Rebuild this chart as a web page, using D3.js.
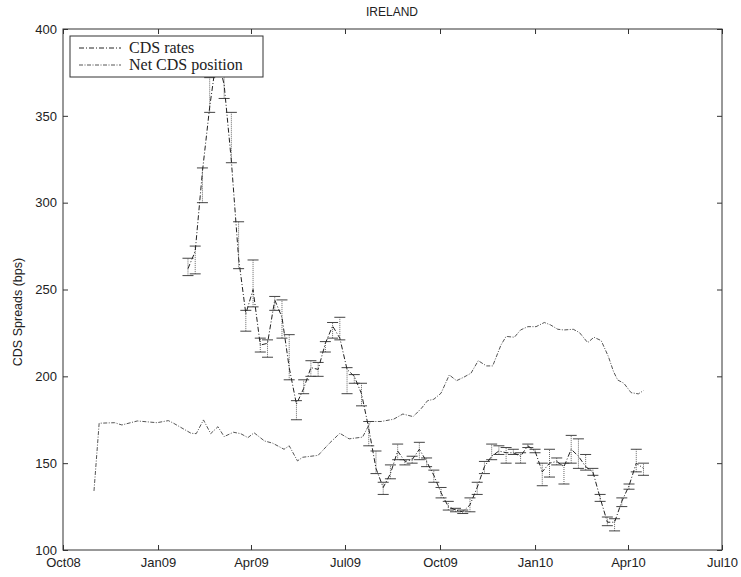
<!DOCTYPE html>
<html>
<head>
<meta charset="utf-8">
<script src="https://cdn.jsdelivr.net/npm/d3@7"></script>
<style>
  body { margin: 0; background: #fff; }
  svg text { font-family: "Liberation Sans", Arial, sans-serif; fill: #222; }
</style>
</head>
<body>
<svg id="chart" width="741" height="577"></svg>
<script>
// net CDS position (dates + values)
const netDates = ["2008-10-31","2008-11-05","2008-11-20","2008-11-27","2008-12-12","2008-12-31","2009-01-11","2009-01-16",
  "2009-02-02","2009-02-07","2009-02-14","2009-02-21","2009-02-28","2009-03-06","2009-03-15","2009-03-22","2009-03-29",
  "2009-04-04","2009-04-14","2009-04-22","2009-05-03","2009-05-08","2009-05-16","2009-05-21","2009-06-05","2009-06-16",
  "2009-06-26","2009-07-05","2009-07-18","2009-07-26","2009-08-05","2009-08-17","2009-08-26","2009-09-05","2009-09-13",
  "2009-09-19","2009-09-25","2009-10-02","2009-10-10","2009-10-17","2009-10-24","2009-10-31","2009-11-07","2009-11-15",
  "2009-11-21","2009-11-29","2009-12-04","2009-12-12","2009-12-18","2009-12-25","2010-01-02","2010-01-10","2010-01-16",
  "2010-01-23","2010-01-29","2010-02-07","2010-02-13","2010-02-21","2010-02-27","2010-03-06","2010-03-13","2010-03-18",
  "2010-03-22","2010-03-28","2010-04-04","2010-04-11","2010-04-16"];
const netValues = [134,173,173.3,172,174.3,173.3,174.5,173,
  167.2,167,174.9,167,171,165.3,167.8,167,164.7,
  167.5,162.8,161.5,158,160,151.3,153.4,154.5,161.5,
  167.2,164,165,174,174,175.3,178.3,176.8,181.6,
  186,186.8,190.3,200.8,197.5,199.5,201.8,209,206,
  206,218,223,222.5,226.7,228.6,228.6,231,229.6,
  227.1,226.7,227.1,225.2,219.4,222.5,220.6,211.4,202.7,
  197.9,196,190.6,189.9,191.8];

// CDS rates, weekly: mean with low/high range
const cdsDates = ["2009-01-30","2009-02-06","2009-02-13","2009-02-20","2009-02-27","2009-03-06","2009-03-13","2009-03-20",
  "2009-03-27","2009-04-03","2009-04-10","2009-04-17","2009-04-24","2009-05-01","2009-05-08","2009-05-15","2009-05-22",
  "2009-05-29","2009-06-05","2009-06-12","2009-06-19","2009-06-26","2009-07-03","2009-07-10","2009-07-17","2009-07-24",
  "2009-07-31","2009-08-07","2009-08-14","2009-08-21","2009-08-28","2009-09-04","2009-09-11","2009-09-18","2009-09-25",
  "2009-10-02","2009-10-09","2009-10-16","2009-10-23","2009-10-30","2009-11-06","2009-11-13","2009-11-20","2009-11-27",
  "2009-12-04","2009-12-11","2009-12-18","2009-12-25","2010-01-01","2010-01-08","2010-01-15","2010-01-22","2010-01-29",
  "2010-02-05","2010-02-12","2010-02-19","2010-02-26","2010-03-05","2010-03-12","2010-03-19","2010-03-26","2010-04-02",
  "2010-04-09","2010-04-16"];
const cdsMean = [262,272,318,355,385,368,324,268,236,250,218,219,244,234,205,184,193,205,204,219,229,222,204,200,190,170,
  147,136,144,157,151,152,158,151,143,133,125,123,122,126,136,148,154,157,156,156,154,160,157,145,150,151,148,158,154,
  148,145,130,116,116,128,137,150,147];
const cdsLow = [258,259,300,352,378,360,323,262,226,240,214,211,238,222,198,175,190,200,200,214,222,221,190,196,183,160,
  144,132,141,152,149,150,152,148,139,130,123,122,121,122,132,144,152,155,150,155,150,159,156,137,142,149,138,150,147,
  146,143,128,114,111,125,135,145,143];
const cdsHigh = [268,275,320,372,392,378,352,289,238,267,222,221,246,244,224,186,198,209,208,220,231,234,205,201,196,174,
  157,139,149,161,152,154,162,153,146,136,128,124,123,130,139,151,161,160,159,158,156,161,158,150,158,153,150,166,164,
  155,147,132,119,118,130,138,158,150];

const xTicks = ["2008-10-01","2009-01-01","2009-04-01","2009-07-01","2009-10-01","2010-01-01","2010-04-01","2010-07-01"];
const yTicks = [100,150,200,250,300,350,400];

const parse = d3.timeParse("%Y-%m-%d");
const svg = d3.select("#chart");
const m = {left: 63, right: 19, top: 29, bottom: 27};
const W = 741, H = 577;

const x = d3.scaleTime()
  .domain([parse(xTicks[0]), parse(xTicks[xTicks.length - 1])])
  .range([m.left, W - m.right]);
const y = d3.scaleLinear().domain([100, 400]).range([H - m.bottom, m.top]);

const fmt = d3.timeFormat("%b%y");

// axes (MATLAB style: ticks inside, box)
const tickDates = xTicks.map(parse);
svg.append("g")
  .attr("transform", "translate(0," + (H - m.bottom) + ")")
  .call(d3.axisBottom(x).tickValues(tickDates).tickFormat(fmt).tickSizeInner(-5).tickSizeOuter(0).tickPadding(8))
  .call(g => g.select(".domain").remove());
svg.append("g")
  .attr("transform", "translate(0," + m.top + ")")
  .call(d3.axisTop(x).tickValues(tickDates).tickFormat("").tickSizeInner(-5).tickSizeOuter(0))
  .call(g => g.select(".domain").remove());
svg.append("g")
  .attr("transform", "translate(" + m.left + ",0)")
  .call(d3.axisLeft(y).tickValues(yTicks).tickSizeInner(-5).tickSizeOuter(0).tickPadding(6))
  .call(g => g.select(".domain").remove());
svg.append("g")
  .attr("transform", "translate(" + (W - m.right) + ",0)")
  .call(d3.axisRight(y).tickValues(yTicks).tickFormat("").tickSizeInner(-5).tickSizeOuter(0))
  .call(g => g.select(".domain").remove());

svg.selectAll(".tick line").attr("stroke", "#333");
svg.selectAll(".tick text").attr("font-size", 13).attr("fill", "#222")
  .style("font-family", "'Liberation Sans', Arial, sans-serif");

svg.append("rect")
  .attr("x", m.left).attr("y", m.top)
  .attr("width", W - m.left - m.right).attr("height", H - m.top - m.bottom)
  .attr("fill", "none").attr("stroke", "#333").attr("stroke-width", 1);

// net CDS position line
const netData = netDates.map((d, i) => [parse(d), netValues[i]]);
svg.append("path")
  .datum(netData)
  .attr("fill", "none")
  .attr("stroke", "#555")
  .attr("stroke-width", 1)
  .attr("stroke-dasharray", "4,1.5,1,1.5")
  .attr("d", d3.line().x(d => x(d[0])).y(d => y(d[1])));

// CDS rates with error bars
const cds = cdsDates.map((d, i) => ({date: parse(d), mean: cdsMean[i], lo: cdsLow[i], hi: cdsHigh[i]}));
const eb = svg.append("g").selectAll("g").data(cds).join("g");
eb.append("line")
  .attr("x1", d => x(d.date)).attr("x2", d => x(d.date))
  .attr("y1", d => y(d.lo)).attr("y2", d => y(d.hi))
  .attr("stroke", "#666").attr("stroke-width", 1).attr("stroke-dasharray", "1,1");
eb.append("line")
  .attr("x1", d => x(d.date) - 5.5).attr("x2", d => x(d.date) + 5.5)
  .attr("y1", d => y(d.lo)).attr("y2", d => y(d.lo))
  .attr("stroke", "#444").attr("stroke-width", 1);
eb.append("line")
  .attr("x1", d => x(d.date) - 5.5).attr("x2", d => x(d.date) + 5.5)
  .attr("y1", d => y(d.hi)).attr("y2", d => y(d.hi))
  .attr("stroke", "#444").attr("stroke-width", 1);

svg.append("path")
  .datum(cds)
  .attr("fill", "none")
  .attr("stroke", "#222")
  .attr("stroke-width", 1)
  .attr("stroke-dasharray", "5,2,1,2")
  .attr("d", d3.line().x(d => x(d.date)).y(d => y(d.mean)));

// legend
const lg = svg.append("g");
lg.append("rect").attr("x", 70).attr("y", 36).attr("width", 193).attr("height", 41)
  .attr("fill", "#fff").attr("stroke", "#333").attr("stroke-width", 1);
const legendItems = [
  {label: "CDS rates", color: "#222", dash: "5,2,1,2"},
  {label: "Net CDS position", color: "#555", dash: "4,1.5,1,1.5"}
];
legendItems.forEach((it, i) => {
  const yy = 48 + i * 17;
  lg.append("line").attr("x1", 79).attr("x2", 121).attr("y1", yy).attr("y2", yy)
    .attr("stroke", it.color).attr("stroke-dasharray", it.dash);
  lg.append("text").attr("x", 129).attr("y", yy + 5).text(it.label)
    .attr("font-size", 16).style("font-family", "'Liberation Serif', 'Times New Roman', serif");
});

// title and y label
svg.append("text").attr("x", 392).attr("y", 16).attr("text-anchor", "middle")
  .attr("font-size", 12).text("IRELAND");
svg.append("text")
  .attr("transform", "translate(22,312) rotate(-90)")
  .attr("text-anchor", "middle").attr("font-size", 12.5)
  .text("CDS Spreads (bps)");
</script>
</body>
</html>
